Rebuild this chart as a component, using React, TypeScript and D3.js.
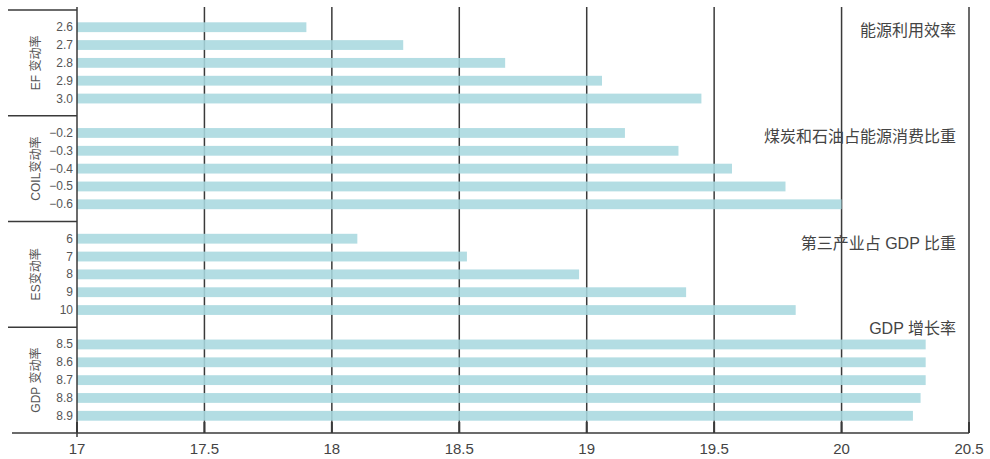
import React from "react";
import * as d3 from "d3";

const groupNames = ["EF 变动率", "COIL变动率", "ES变动率", "GDP 变动率"];
const groupNotes = ["能源利用效率", "煤炭和石油占能源消费比重", "第三产业占 GDP 比重", "GDP 增长率"];
const efLabels = ["2.6", "2.7", "2.8", "2.9", "3.0"];
const efValues = [17.9, 18.28, 18.68, 19.06, 19.45];
const coilLabels = ["−0.2", "−0.3", "−0.4", "−0.5", "−0.6"];
const coilValues = [19.15, 19.36, 19.57, 19.78, 20.0];
const esLabels = ["6", "7", "8", "9", "10"];
const esValues = [18.1, 18.53, 18.97, 19.39, 19.82];
const gdpLabels = ["8.5", "8.6", "8.7", "8.8", "8.9"];
const gdpValues = [20.33, 20.33, 20.33, 20.31, 20.28];
const xTicks = [17, 17.5, 18, 18.5, 19, 19.5, 20, 20.5];

const groupLabels = [efLabels, coilLabels, esLabels, gdpLabels];
const groupValues = [efValues, coilValues, esValues, gdpValues];

const W = 990;
const H = 459;
const left = 77;
const right = 969;
const top = 10;
const bottom = 433;
const barColor = "#a9d8df";
const lineColor = "#3a3a3a";
const font = "Liberation Sans, Arial, Noto Sans CJK SC, sans-serif";

export default function App() {
  const x = d3.scaleLinear().domain([17, 20.5]).range([left, right]);
  const g = d3.scaleBand<number>().domain([0, 1, 2, 3]).range([top, bottom]).padding(0);

  return (
    <svg width={W} height={H} style={{ position: "absolute", left: 0, top: 0, background: "#fff" }}>
      {xTicks.slice(1).map((t) => (
        <line key={"g" + t} x1={x(t)} x2={x(t)} y1={7} y2={bottom} stroke={lineColor} strokeWidth={1.5} />
      ))}
      {groupValues.map((vals, gi) => {
        const y = d3
          .scaleBand<string>()
          .domain(groupLabels[gi])
          .range([g(gi)!, g(gi)! + g.bandwidth()])
          .paddingInner(0.45)
          .paddingOuter(0.69);
        return (
          <g key={"grp" + gi}>
            {vals.map((v, i) => (
              <rect
                key={i}
                x={x(17)}
                y={y(groupLabels[gi][i])!}
                width={x(v) - x(17)}
                height={y.bandwidth()}
                fill={barColor}
                fillOpacity={0.88}
              />
            ))}
            {groupLabels[gi].map((l) => (
              <text
                key={"l" + l}
                x={73}
                y={y(l)! + y.bandwidth() / 2}
                textAnchor="end"
                dominantBaseline="central"
                fontSize={12}
                fill="#555"
                fontFamily={font}
              >
                {l}
              </text>
            ))}
            <text
              transform={`translate(${36},${g(gi)! + g.bandwidth() / 2}) rotate(-90)`}
              textAnchor="middle"
              dominantBaseline="central"
              fontSize={12}
              fill="#555"
              fontFamily={font}
            >
              {groupNames[gi]}
            </text>
            <text
              x={956}
              y={[30, 136, 243, 328][gi]}
              textAnchor="end"
              dominantBaseline="central"
              fontSize={16}
              fill="#444"
              fontFamily={font}
            >
              {groupNotes[gi]}
            </text>
          </g>
        );
      })}
      {[0, 1, 2, 3].map((gi) => (
        <line key={"s" + gi} x1={8} x2={left} y1={g(gi)!} y2={g(gi)!} stroke={lineColor} strokeWidth={1.5} />
      ))}
      <line x1={left} x2={left} y1={7} y2={bottom + 4} stroke={lineColor} strokeWidth={1.5} />
      <line x1={12} x2={right} y1={bottom} y2={bottom} stroke={lineColor} strokeWidth={1.5} />
      {xTicks.map((t) => (
        <g key={"t" + t}>
          <line x1={x(t)} x2={x(t)} y1={bottom - 11} y2={bottom} stroke={lineColor} strokeWidth={2} />
          <text
            x={x(t)}
            y={448}
            textAnchor="middle"
            dominantBaseline="central"
            fontSize={15}
            fill="#444"
            fontFamily={font}
          >
            {t}
          </text>
        </g>
      ))}
    </svg>
  );
}
